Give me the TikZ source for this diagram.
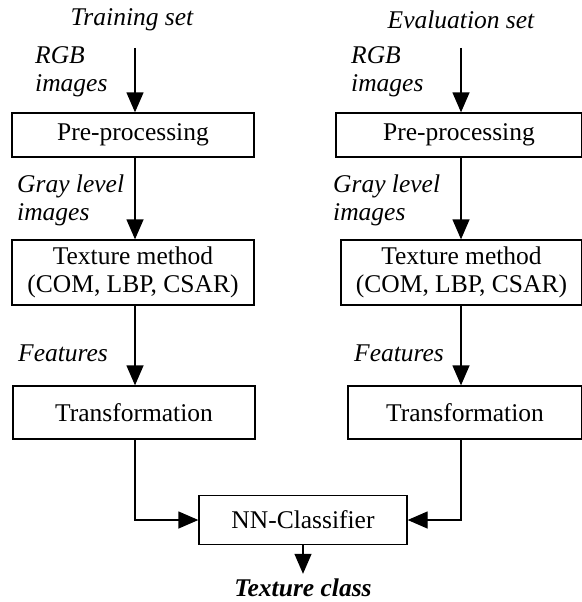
\documentclass[tikz,border=0pt]{standalone}
\usepackage{fontspec}
\setmainfont{Liberation Serif}
\usetikzlibrary{arrows.meta}
\begin{document}
\begin{tikzpicture}[x=1pt,y=-1pt,
  every node/.style={font=\fontsize{25.5}{28}\selectfont},
  box/.style={draw,line width=1.3pt,inner sep=0pt,align=center},
  lab/.style={font=\fontsize{25.5}{28}\selectfont\itshape,inner sep=0pt,align=left,anchor=west},
  arr/.style={line width=1.3pt,-{Triangle[length=20pt,width=17pt]}},
  conn/.style={line width=1.3pt}]
\useasboundingbox (0,0) rectangle (581,602);
% titles
\node[lab,anchor=center] (t1) at (132,20) {Training set};
\node[lab,anchor=center] (t2) at (461,20) {Evaluation set};
% boxes left
\node[box,minimum width=242pt,minimum height=44pt] (pre1) at (133,135) {Pre-processing};
\node[box,minimum width=242pt,minimum height=65pt] (tex1) at (133,272.5) {Texture method\\(COM, LBP, CSAR)};
\node[box,minimum width=242pt,minimum height=53pt] (tr1) at (134,412.5) {Transformation};
% boxes right
\node[box,minimum width=246pt,minimum height=44pt] (pre2) at (459,135) {Pre-processing};
\node[box,minimum width=241pt,minimum height=65pt] (tex2) at (461.5,272.5) {Texture method\\(COM, LBP, CSAR)};
\node[box,minimum width=234pt,minimum height=53pt] (tr2) at (465,412.5) {Transformation};
% classifier
\node[box,minimum width=208pt,minimum height=49pt] (nn) at (303,520) {NN-Classifier};
\node[font=\fontsize{25.5}{28}\selectfont\bfseries\itshape,inner sep=0pt] (out) at (303,588) {Texture class};
% labels
\node[lab,align=left] (rgb1) at (35,72) {RGB\\images};
\node[lab,align=left] (rgb2) at (351,72) {RGB\\images};
\node[lab,align=left] (gl1) at (17,200) {Gray level\\images};
\node[lab,align=left] (gl2) at (333,200) {Gray level\\images};
\node[lab] (f1) at (18,353) {Features};
\node[lab] (f2) at (354,353) {Features};
% arrow columns
\coordinate (s1) at (135,48);
\coordinate (s2) at (461,48);
\draw[arr] (s1) -- (pre1.north -| s1);
\draw[arr] (s2) -- (pre2.north -| s2);
\draw[arr] (pre1.south -| s1) -- (tex1.north -| s1);
\draw[arr] (pre2.south -| s2) -- (tex2.north -| s2);
\draw[arr] (tex1.south -| s1) -- (tr1.north -| s1);
\draw[arr] (tex2.south -| s2) -- (tr2.north -| s2);
\draw[arr] (tr1.south -| s1) |- (nn.west);
\draw[arr] (tr2.south -| s2) |- (nn.east);
\draw[arr] (nn.south) -- ([yshift=5pt]out.north);
\end{tikzpicture}
\end{document}
